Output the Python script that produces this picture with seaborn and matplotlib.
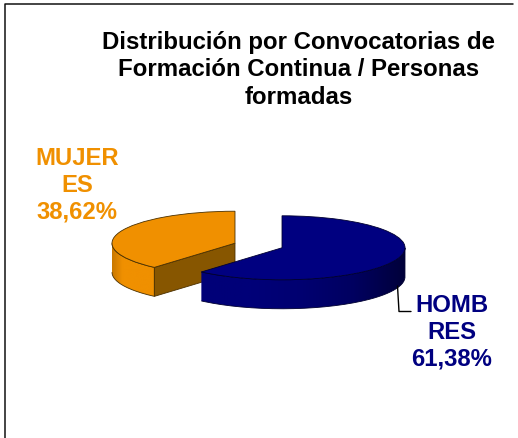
import numpy as np
import seaborn as sns
from matplotlib import pyplot as plt
from matplotlib.path import Path
from matplotlib.patches import PathPatch, Polygon

sns.set_theme(style="white")
plt.rcParams['font.family'] = ['Liberation Sans', 'DejaVu Sans']

title = "Distribución por Convocatorias de\nFormación Continua / Personas\nformadas"
categories = ["HOMB\nRES", "MUJER\nES"]
shares = [61.38, 38.62]
share_labels = ["61,38%", "38,62%"]
top_colors = ["#000080", "#F09000"]
rim_colors = [["#000078", "#000078", "#000070", "#000060", "#00003A"],
              ["#C87800", "#F09000", "#F09000", "#F09000", "#F09000"]]
edge_colors = ["#000030", "#4A3000"]
cut_color = "#875600"

W, H = 518, 439
RX, RY = 123, 32
CX, CY = 258.5, 246.5
DEPTH = 29 / RY

fig = plt.figure(figsize=(W / 100, H / 100), dpi=100)
ax = fig.add_axes([0, 0, 1, 1])

wedges, _ = ax.pie(shares, startangle=90, counterclock=False, explode=[0.204, 0.204],
                   colors=top_colors, wedgeprops=dict(linewidth=0.6))
ax.set_aspect('auto')
ax.axis('off')
xlim = (-CX / RX, (W - CX) / RX)
ylim = ((CY - H) / RY, CY / RY)


def rim_path(w):
    a = max(w.theta1, -180)
    b = min(w.theta2, 0)
    t = np.radians(np.linspace(a, b, 80))
    x = w.center[0] + np.cos(t)
    y = w.center[1] + np.sin(t)
    xs = np.r_[x, x[::-1]]
    ys = np.r_[y, y[::-1] - DEPTH]
    return np.c_[xs, ys]


# orange goes behind the blue slice
for i, z in [(1, 1), (0, 5)]:
    w = wedges[i]
    w.set_zorder(z + 2)
    w.set_edgecolor(edge_colors[i])
    pts = rim_path(w)
    cmap = sns.blend_palette(rim_colors[i], as_cmap=True)
    im = ax.imshow(np.linspace(0, 1, 256).reshape(1, -1), cmap=cmap, aspect='auto',
                   extent=(pts[:, 0].min(), pts[:, 0].max(), pts[:, 1].min(), pts[:, 1].max()),
                   zorder=z)
    clip = PathPatch(Path(pts, closed=False), facecolor='none', edgecolor=edge_colors[i],
                     linewidth=0.6, zorder=z + 1)
    ax.add_patch(clip)
    im.set_clip_path(clip)

# cut face of the orange slice
w = wedges[1]
t = np.radians(w.theta2)
cx, cy = w.center
ex, ey = cx + np.cos(t), cy + np.sin(t)
ax.add_patch(Polygon([(cx, cy), (ex, ey), (ex, ey - DEPTH), (cx, cy - DEPTH)], closed=True,
                     facecolor=cut_color, edgecolor=edge_colors[1], linewidth=0.6, zorder=2))

ax.set_xlim(xlim)
ax.set_ylim(ylim)

# outer frame and leader line, in figure pixels
px = lambda x: x / W
py = lambda y: 1 - y / H
fig.add_artist(plt.Line2D([px(4.5), px(4.5), px(513)], [py(439), py(5), py(5)], color='#111111', lw=1.1))
fig.add_artist(plt.Line2D([px(397.5), px(399), px(411)], [py(287), py(312.5), py(312.5)], color='black', lw=1.0))

fig.text(px(298.5), py(70), title, ha='center', va='center', fontsize=17.3, fontweight='bold',
         color='black', linespacing=1.23)
fig.text(px(451.5), py(332.5), categories[0] + "\n" + share_labels[0], ha='center', va='center',
         fontsize=17.2, fontweight='bold', color='#000080', linespacing=1.2)
fig.text(px(77), py(185), categories[1] + "\n" + share_labels[1], ha='center', va='center',
         fontsize=17.2, fontweight='bold', color='#F09000', linespacing=1.2)

fig.savefig('out.png', dpi=100)
